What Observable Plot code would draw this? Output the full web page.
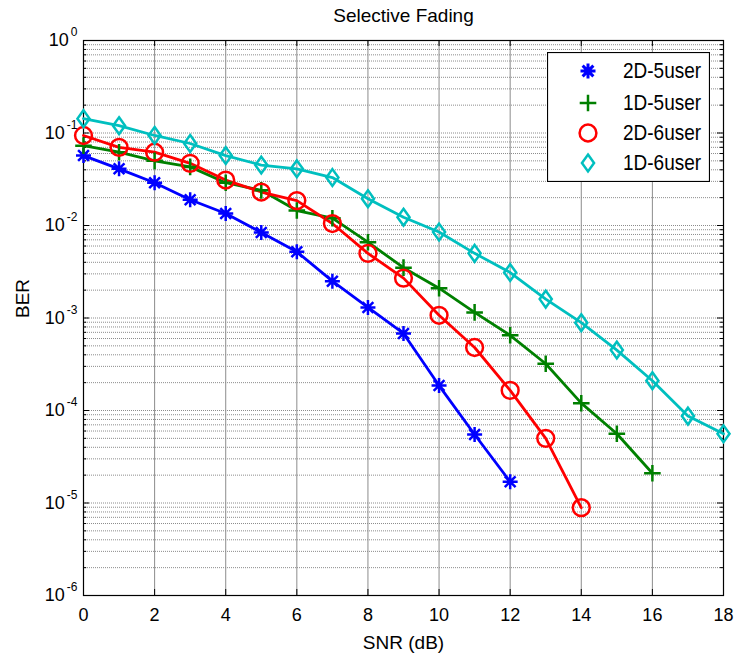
<!DOCTYPE html>
<html>
<head>
<meta charset="utf-8">
<script src="https://cdn.jsdelivr.net/npm/d3@7"></script>
<script src="https://cdn.jsdelivr.net/npm/@observablehq/plot@0.6"></script>
<style>
  html, body { margin: 0; padding: 0; background: #fff; }
  #wrap { position: relative; width: 739px; height: 659px; }
  #legend { position: absolute; left: 547px; top: 52px; width: 163px; height: 130px; }
</style>
</head>
<body>
<div id="wrap"></div>
<script>
// ---- data ----
const snr2D5 = [0,1,2,3,4,5,6,7,8,9,10,11,12];
const ber2D5 = [0.057,0.041,0.029,0.019,0.0135,0.0084,0.0052,0.0025,0.0013,0.00068,0.000186,5.5e-5,1.7e-5];
const snr1D5 = [0,1,2,3,4,5,6,7,8,9,10,11,12,13,14,15,16];
const ber1D5 = [0.073,0.062,0.050,0.043,0.029,0.024,0.0145,0.012,0.0066,0.0035,0.0021,0.00115,0.00065,0.00032,0.00012,5.6e-5,2.1e-5];
const snr2D6 = [0,1,2,3,4,5,6,7,8,9,10,11,12,13,14];
const ber2D6 = [0.094,0.070,0.062,0.047,0.031,0.023,0.0186,0.0105,0.0050,0.0027,0.00107,0.00048,0.000165,5.0e-5,8.9e-6];
const snr1D6 = [0,1,2,3,4,5,6,7,8,9,10,11,12,13,14,15,16,17,18];
const ber1D6 = [0.143,0.12,0.094,0.077,0.057,0.045,0.041,0.033,0.0195,0.0123,0.0085,0.005,0.0031,0.0016,0.00089,0.00045,0.00021,8.7e-5,5.6e-5];

const seriesNames = ["2D-5user","1D-5user","2D-6user","1D-6user"];
const seriesColors = ["#0000ff","#008000","#ff0000","#00bfbf"];
const xTicks = [0,2,4,6,8,10,12,14,16,18];
const yDecades = [1e-6,1e-5,1e-4,1e-3,1e-2,1e-1,1];
const minorMultipliers = [2,3,4,5,6,7,8,9];
const titleText = "Selective Fading";
const xLabel = "SNR (dB)";
const yLabel = "BER";

// ---- custom MATLAB-like symbols (half-extent = r) ----
const symAsterisk = { draw(ctx, size) { const r = Math.sqrt(size/Math.PI); const d = r*0.72;
  ctx.moveTo(-r,0); ctx.lineTo(r,0); ctx.moveTo(0,-r); ctx.lineTo(0,r);
  ctx.moveTo(-d,-d); ctx.lineTo(d,d); ctx.moveTo(-d,d); ctx.lineTo(d,-d); } };
const symPlus = { draw(ctx, size) { const r = Math.sqrt(size/Math.PI);
  ctx.moveTo(-r,0); ctx.lineTo(r,0); ctx.moveTo(0,-r); ctx.lineTo(0,r); } };
const symCircle = { draw(ctx, size) { const r = Math.sqrt(size/Math.PI);
  ctx.moveTo(r,0); ctx.arc(0,0,r,0,2*Math.PI); } };
const symDiamond = { draw(ctx, size) { const r = Math.sqrt(size/Math.PI); const w = r*0.72;
  ctx.moveTo(0,-r); ctx.lineTo(w,0); ctx.lineTo(0,r); ctx.lineTo(-w,0); ctx.closePath(); } };
const seriesSymbols = [symAsterisk, symPlus, symCircle, symDiamond];
const seriesR = [7.5, 8.3, 8.4, 8.4];

const seriesData = [
  snr2D5.map((x,i)=>({x, y: ber2D5[i]})),
  snr1D5.map((x,i)=>({x, y: ber1D5[i]})),
  snr2D6.map((x,i)=>({x, y: ber2D6[i]})),
  snr1D6.map((x,i)=>({x, y: ber1D6[i]}))
];

const minorTicks = [];
for (const d of yDecades.slice(0,-1)) for (const m of minorMultipliers) minorTicks.push(d*m);
const allGridY = yDecades.concat(minorTicks);

const font = "'Liberation Sans', Arial, Helvetica, sans-serif";
const tickDecade = Math.pow(10, 6/92.5);

const marks = [
  // grid
  Plot.ruleY(allGridY, {stroke: "#8c8c8c", strokeWidth: 1, strokeDasharray: "1,1"}),
  Plot.ruleX(xTicks, {stroke: "#8c8c8c", strokeWidth: 1}),
  // inner tick marks
  Plot.ruleY(yDecades, {x1: 0, x2: 0.17, stroke: "#000"}),
  Plot.ruleY(yDecades, {x1: 18 - 0.17, x2: 18, stroke: "#000"}),
  Plot.ruleY(minorTicks, {x1: 0, x2: 0.09, stroke: "#000"}),
  Plot.ruleY(minorTicks, {x1: 18 - 0.09, x2: 18, stroke: "#000"}),
  Plot.ruleX(xTicks, {y1: 1e-6, y2: 1e-6*tickDecade, stroke: "#000"}),
  Plot.ruleX(xTicks, {y1: 1, y2: 1/tickDecade, stroke: "#000"}),
  Plot.frame({stroke: "#000", strokeWidth: 1.2}),
];
seriesData.forEach((d, i) => {
  marks.push(Plot.line(d, {x: "x", y: "y", stroke: seriesColors[i], strokeWidth: 2.8}));
});
seriesData.forEach((d, i) => {
  marks.push(Plot.dot(d, {x: "x", y: "y", symbol: seriesSymbols[i], r: seriesR[i], fill: "none",
    stroke: seriesColors[i], strokeWidth: 2.5}));
});
marks.push(
  Plot.axisX({ticks: xTicks, tickSize: 0, tickPadding: 13, label: null, fontSize: 18}),
  Plot.axisY({ticks: yDecades, tickSize: 0, tickPadding: 6, label: null, fontSize: 18,
    tickFormat: d => "10^" + Math.round(Math.log10(d))}),
  Plot.text([titleText], {frameAnchor: "top", lineAnchor: "middle", dy: -24.5, text: d => d, fontSize: 19, fill: "#000", ariaLabel: "title-text"}),
  Plot.text([xLabel], {frameAnchor: "bottom", lineAnchor: "middle", dy: 47, text: d => d, fontSize: 19, fill: "#000", ariaLabel: "xlabel-text"}),
  Plot.text([yLabel], {frameAnchor: "left", lineAnchor: "middle", dx: -60.5, rotate: -90, text: d => d, fontSize: 19, fill: "#000", ariaLabel: "ylabel-text"})
);

const chart = Plot.plot({
  width: 739, height: 659,
  marginTop: 40, marginLeft: 83, marginRight: 16, marginBottom: 64,
  style: {fontFamily: font, fontSize: "18px", background: "#fff", color: "#000"},
  x: {domain: [0, 18]},
  y: {type: "log", domain: [1e-6, 1]},
  marks
});

// superscript exponents on y tick labels
d3.select(chart).selectAll('g[aria-label="y-axis tick label"] text').each(function() {
  const t = d3.select(this);
  const s = t.text();
  if (s.indexOf("^") < 0) return;
  const [base, exp] = s.split("^");
  t.text(base);
  t.append("tspan").attr("dy", "-10px").attr("dx", "2px").attr("font-size", "12px").text(exp);
});

const wrap = document.getElementById("wrap");
wrap.appendChild(chart);

// MATLAB text looks slightly taller than wide: stretch each label group about its centre
function stretchGroup(label, sx, sy) {
  const g = chart.querySelector(`g[aria-label="${label}"]`);
  if (!g) return;
  const svgRect = chart.getBoundingClientRect();
  const r = g.getBoundingClientRect();
  const cx = r.left - svgRect.left + r.width / 2, cy = r.top - svgRect.top + r.height / 2;
  const outer = document.createElementNS("http://www.w3.org/2000/svg", "g");
  outer.setAttribute("transform", `translate(${cx},${cy}) scale(${sx},${sy}) translate(${-cx},${-cy})`);
  g.parentNode.insertBefore(outer, g);
  outer.appendChild(g);
}
stretchGroup("title-text", 1, 1.12);
stretchGroup("xlabel-text", 1, 1.12);
stretchGroup("ylabel-text", 1.12, 1);

// legend
const leg = document.createElement("div");
leg.id = "legend";
wrap.appendChild(leg);
const lsvg = d3.select(leg).append("svg").attr("width", 163).attr("height", 130)
  .style("font-family", font);
lsvg.append("rect").attr("x", 0.5).attr("y", 0.5).attr("width", 162).attr("height", 129)
  .attr("fill", "#fff").attr("stroke", "#000").attr("stroke-width", 1.2);
const rowY = [19, 51, 81, 111];
seriesNames.forEach((name, i) => {
  lsvg.append("path")
    .attr("transform", `translate(41,${rowY[i]})`)
    .attr("d", d3.symbol(seriesSymbols[i], Math.PI * seriesR[i] * seriesR[i])())
    .attr("fill", "none").attr("stroke", seriesColors[i]).attr("stroke-width", i === 0 ? 3 : 2.5);
  lsvg.append("text")
    .attr("transform", `translate(76,${rowY[i]}) scale(1,1.12)`)
    .attr("dy", "0.35em")
    .attr("font-size", 19).attr("fill", "#000").text(name);
});
</script>
</body>
</html>
